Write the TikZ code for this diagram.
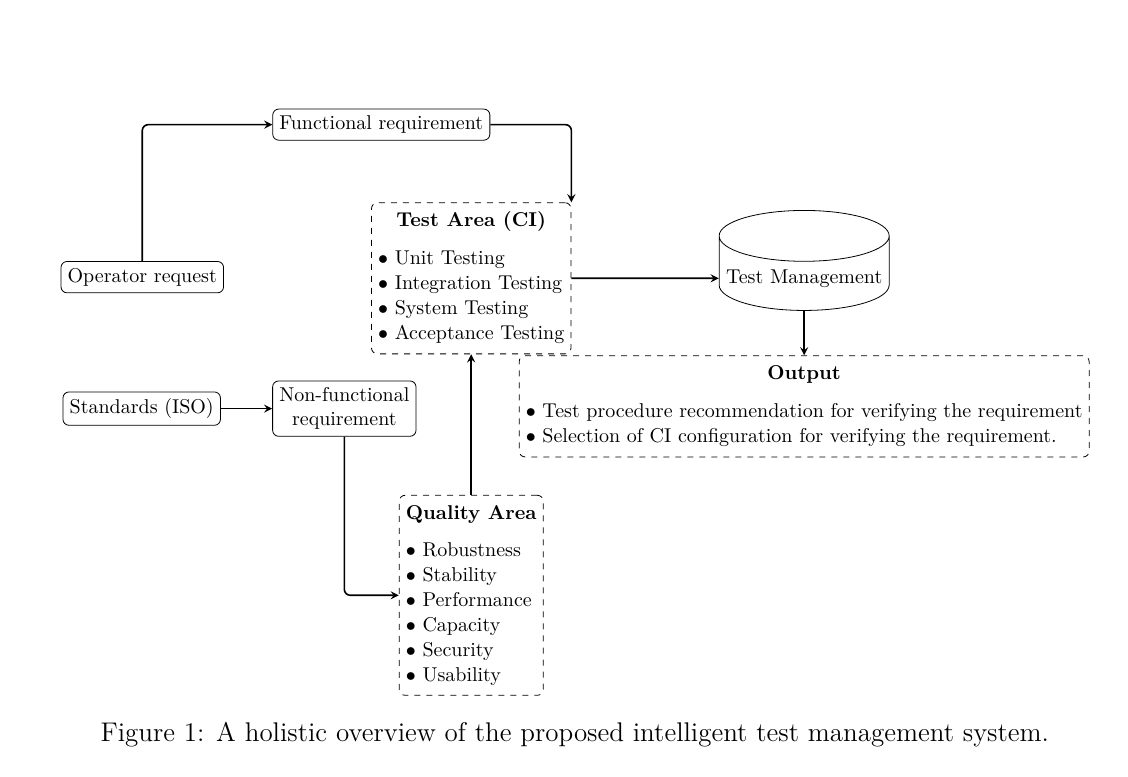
\documentclass[tikz,border=0pt]{standalone}
\usetikzlibrary{shapes.geometric, arrows, positioning}
\renewcommand{\arraystretch}{1.04}

\begin{document}
\begin{tikzpicture}[
    >=stealth,
    box/.style={draw, rounded corners=3pt},
    area/.style={draw, dashed, rounded corners=3pt},
    link/.style={->, thick, rounded corners=3pt}
]
\useasboundingbox (0,0) rectangle (19.82,13.65);

% Inputs
\node[box] (operator) at (2.50,8.78) {Operator request};
\node[box] (functional) at (6.70,11.46) {Functional requirement};
\node[box] (standards) at (2.49,6.47) {Standards (ISO)};
\node[box, align=center] (nonfunctional) at (6.05,6.47) {Non-functional\\requirement};

% Areas
\node[area] (testarea) at (8.28,8.76) {\begin{tabular}{@{}l@{}}
    \multicolumn{1}{@{}c@{}}{\textbf{Test Area (CI)}}\\[6.5pt]
    $\bullet$ Unit Testing\\
    $\bullet$ Integration Testing\\
    $\bullet$ System Testing\\
    $\bullet$ Acceptance Testing
\end{tabular}};

\node[area] (quality) at (8.28,3.19) {\begin{tabular}{@{}l@{}}
    \multicolumn{1}{@{}c@{}}{\textbf{Quality Area}}\\[6pt]
    $\bullet$ Robustness\\
    $\bullet$ Stability\\
    $\bullet$ Performance\\
    $\bullet$ Capacity\\
    $\bullet$ Security\\
    $\bullet$ Usability
\end{tabular}};

% Test management and output
\node[cylinder, draw, shape border rotate=90, aspect=0.3, minimum width=85pt, minimum height=50pt] (management) at (14.13,8.76) {Test Management};

\node[area] (output) at (14.13,6.51) {\begin{tabular}{@{}l@{}}
    \multicolumn{1}{@{}c@{}}{\textbf{Output}}\\[6.5pt]
    $\bullet$ Test procedure recommendation for verifying the requirement\\
    $\bullet$ Selection of CI configuration for verifying the requirement.
\end{tabular}};

% Connections
\draw[link] (operator.north) |- (functional.west);
\draw[link] (functional.east) -| (testarea.north east);
\draw[link] (testarea.east) -- (management.west);
\draw[link] (management.south) -- (output.north);
\draw[link] (standards.east) -- (nonfunctional.west);
\draw[link] (nonfunctional.south) |- (quality.west);
\draw[link] (quality.north) -- (testarea.south);

% Caption
\node[font=\fontsize{13.5pt}{16pt}\selectfont] (caption) at (10.10,0.74) {Figure 1: A holistic overview of the proposed intelligent test management system.};

\end{tikzpicture}
\end{document}
